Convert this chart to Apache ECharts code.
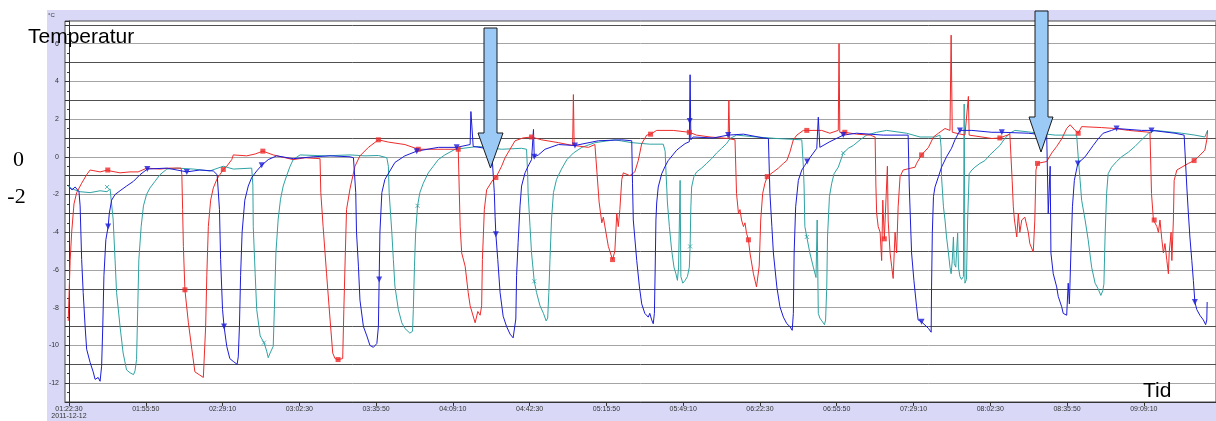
<!DOCTYPE html>
<html>
<head>
<meta charset="utf-8">
<script src="https://cdn.jsdelivr.net/npm/echarts/dist/echarts.min.js"></script>
<style>
html,body{margin:0;padding:0;background:#fff;width:1216px;height:421px;overflow:hidden;}
#panel{position:absolute;left:47px;top:10px;width:1169px;height:411px;background:#d9d9f7;}
#chart{position:absolute;left:0;top:0;width:1216px;height:421px;}
</style>
</head>
<body>
<div id="panel"></div>
<div id="chart"></div>
<script>
// elapsed seconds since 01:22:30 (2011-12-12), temperature in °C
const START_SECONDS = 4950;
const xTickSeconds = [0,2000,4000,6000,8000,10000,12000,14000,16000,18000,20000,22000,24000,26000,28000];
const xTickLabels = ['01:22:30','01:55:50','02:29:10','03:02:30','03:35:50','04:09:10','04:42:30','05:15:50','05:49:10','06:22:30','06:55:50','07:29:10','08:02:30','08:35:50','09:09:10'];
const startDate = '2011-12-12';

const red = [
[-20,-8.7],[30,-5.5],[70,-4.0],[130,-2.5],[200,-1.9],[330,-1.4],[460,-0.95],[550,-0.7],[810,-0.8],[1010,-0.7],[1070,-0.75],[1330,-0.85],[1590,-0.8],[1800,-0.8],[1850,-0.7],[2030,-0.6],[2370,-0.65],[2630,-0.6],[2920,-0.6],
[2940,-0.95],[2960,-2.8],[2980,-4.75],[3020,-7.05],[3110,-8.8],[3200,-10.2],[3280,-11.4],[3390,-11.55],[3500,-11.7],[3540,-11.65],
[3560,-9.0],[3590,-6.3],[3630,-3.7],[3690,-2.3],[3760,-1.65],[3850,-1.2],[3930,-0.95],[4020,-0.67],[4110,-0.5],[4240,-0.15],[4280,0.1],[4630,0.05],[4850,0.15],[5050,0.3],[5320,0.1],[5840,-0.15],[6150,-0.05],[6540,-0.1],
[6560,-1.9],[6620,-3.7],[6710,-6.2],[6800,-8.6],[6870,-10.4],[6930,-10.7],[7010,-10.75],[7130,-10.7],
[7160,-8.1],[7200,-5.0],[7230,-2.8],[7320,-1.7],[7450,-0.5],[7580,0.05],[7800,0.5],[8060,0.9],[8320,0.78],[8750,0.65],[9100,0.4],[9790,0.4],[10140,0.4],[10170,0.3],
[10190,-3.7],[10230,-5.1],[10320,-5.8],[10400,-7.2],[10450,-7.9],[10580,-8.8],[10650,-8.2],[10710,-8.4],[10750,-7.9],
[10770,-5.45],[10820,-2.8],[10880,-1.75],[11050,-1.2],[11120,-1.1],[11270,-0.5],[11360,-0.05],[11490,0.4],[11620,0.85],[11830,1.0],[12050,1.05],[12310,0.9],[12750,0.75],[13120,0.6],[13140,3.3],[13160,0.6],[13530,0.5],[13700,0.65],
[13760,-1.0],[13810,-2.4],[13880,-3.5],[13920,-3.2],[14050,-4.75],[14160,-5.45],[14220,-5.0],[14270,-3.0],[14310,-3.7],[14350,-2.8],[14400,-1.2],[14440,-0.85],[14610,-1.0],[14740,-0.8],[14830,-0.2],[14920,0.7],[15050,1.15],[15150,1.2],[15310,1.4],[15740,1.4],[16160,1.3],[16350,1.15],[16700,1.05],[17170,0.97],[17190,3.0],[17210,0.95],[17350,0.9],
[17390,-1.95],[17440,-3.0],[17480,-2.8],[17520,-3.35],[17570,-3.7],[17610,-3.5],[17650,-4.05],[17700,-4.4],[17740,-5.1],[17830,-6.2],[17910,-6.9],[17960,-7.0],
[17980,-5.8],[18020,-3.35],[18070,-1.95],[18130,-1.4],[18190,-1.05],[18350,-0.8],[18480,-0.6],[18610,-0.35],[18700,-0.2],[18780,0.25],[18870,0.9],[18960,1.15],[19130,1.4],[19220,1.4],[19610,1.4],[19820,1.25],[20040,1.4],[20060,6.0],[20080,1.3],[20210,1.3],[20520,1.2],[20870,1.15],[21000,1.05],
[21020,-1.5],[21040,-3.0],[21080,-3.7],[21130,-4.0],[21170,-5.5],[21200,-2.3],[21240,-4.35],[21280,-4.4],[21320,-0.5],[21340,-3.4],[21390,-5.1],[21430,-5.8],[21470,-6.45],[21520,-4.0],[21560,-5.1],[21600,-2.65],[21650,-1.05],[21730,-0.7],[22040,-0.55],[22080,-0.35],[22210,0.1],[22390,0.5],[22520,1.05],[22650,1.25],[22820,1.5],[22950,1.4],[22980,6.45],[23010,1.3],[23340,1.15],[23430,3.2],[23450,1.15],[23780,1.05],[24040,0.97],[24250,1.0],[24510,1.2],[24560,1.15],
[24570,-1.25],[24600,-2.65],[24630,-3.35],[24690,-4.25],[24730,-3.0],[24770,-4.0],[24820,-3.35],[24900,-3.2],[24990,-4.0],[25030,-4.6],[25120,-5.05],[25160,-3.35],[25190,-0.7],[25230,-0.35],[25470,-0.25],[25600,0.2],[25730,0.55],[25860,0.95],[25990,1.5],[26080,1.7],[26210,1.4],[26290,1.25],[26380,1.6],[26900,1.55],[27250,1.5],[27600,1.4],[28160,1.3],
[28200,-1.95],[28250,-3.35],[28270,-3.35],[28340,-3.7],[28380,-4.0],[28420,-3.35],[28470,-4.4],[28510,-5.1],[28550,-4.6],[28600,-5.5],[28640,-6.2],[28660,-5.1],[28710,-4.0],[28730,-5.5],[28770,-3.35],[28790,-1.25],[28860,-0.7],[29160,-0.35],[29310,-0.2],[29420,0],[29590,0.35],[29640,0.9],[29660,1.4]
];

const blue = [
[0,-1.6],[80,-1.75],[160,-1.6],[260,-1.85],[290,-2.6],[330,-5.45],[370,-7.2],[420,-9.0],[460,-10.2],[550,-10.9],[630,-11.4],[680,-11.8],[760,-11.7],[810,-11.9],[850,-11.1],[880,-9.0],[910,-6.3],[960,-4.4],[1020,-3.7],[1050,-3.0],[1110,-2.3],[1200,-2.0],[1330,-1.8],[1500,-1.55],[1680,-1.3],[1850,-0.95],[2040,-0.65],[2550,-0.6],[3070,-0.8],[3410,-0.7],[3760,-0.75],[3860,-0.95],
[3920,-2.8],[3950,-5.45],[4000,-8.1],[4040,-9.0],[4110,-10.05],[4190,-10.7],[4280,-10.85],[4380,-11.0],[4410,-10.6],[4440,-9.0],[4470,-6.3],[4510,-4.0],[4580,-2.3],[4670,-1.55],[4760,-1.1],[4890,-0.75],[5020,-0.45],[5190,-0.15],[5410,0.05],[5840,-0.1],[6360,0],[6800,0.05],[7320,0],[7410,-0.05],
[7470,-1.9],[7490,-4.0],[7540,-5.8],[7580,-7.6],[7670,-9.0],[7760,-9.5],[7840,-10.0],[7930,-10.1],[8020,-9.9],[8060,-9.0],[8080,-6.5],[8100,-4.0],[8150,-1.9],[8230,-1.2],[8360,-0.75],[8490,-0.3],[8750,0.05],[9060,0.3],[9620,0.5],[10100,0.5],[10450,0.65],[10470,2.4],[10530,0.55],[11010,0.4],[11050,0.3],
[11080,-1.9],[11100,-3.15],[11120,-4.1],[11170,-5.45],[11230,-7.2],[11310,-8.45],[11400,-9.0],[11490,-9.4],[11570,-9.6],[11620,-9.5],[11640,-8.6],[11660,-6.3],[11700,-4.55],[11750,-2.6],[11790,-1.55],[11880,-0.85],[11960,-0.5],[12050,-0.15],[12100,1.45],[12120,0],[12230,0.1],[12400,0.4],[12750,0.65],[13180,0.6],[13790,0.85],[14400,0.9],[14660,0.85],
[14680,-1.4],[14700,-3.35],[14790,-5.5],[14860,-6.9],[14920,-7.8],[15000,-8.3],[15090,-8.5],[15130,-8.3],[15180,-8.65],[15220,-8.85],[15250,-8.3],[15270,-6.0],[15290,-3.35],[15310,-2.45],[15350,-1.6],[15440,-0.9],[15530,-0.5],[15610,-0.2],[15830,0.35],[15920,0.5],[16050,0.7],[16160,0.8],[16180,4.35],[16200,0.9],[16260,1.05],[16780,1.0],[17170,1.15],[17570,1.2],[18090,1.0],[18220,0.97],
[18260,-1.95],[18310,-3.7],[18350,-5.1],[18440,-6.9],[18520,-7.95],[18610,-8.5],[18700,-8.85],[18780,-9.0],[18840,-9.2],[18870,-8.3],[18890,-5.1],[18930,-2.65],[19000,-1.25],[19090,-0.7],[19170,-0.45],[19230,-0.25],[19390,0.2],[19480,0.45],[19520,2.1],[19560,0.5],[19820,0.8],[20170,1.15],[20520,1.25],[21210,1.15],[21860,1.15],
[21890,-1.6],[21950,-5.1],[22010,-6.55],[22080,-7.95],[22120,-8.65],[22210,-8.75],[22390,-9.1],[22460,-9.3],[22470,-6.9],[22490,-4.05],[22520,-2.1],[22560,-1.6],[22650,-1.05],[22730,-0.55],[22860,0],[22990,0.45],[23080,0.9],[23210,1.4],[23520,1.4],[24040,1.3],[24300,1.3],[24990,1.25],[25470,1.15],
[25510,-3.0],[25560,-0.5],[25580,-5.1],[25640,-6.2],[25730,-6.9],[25770,-7.4],[25860,-7.95],[25900,-8.3],[25990,-8.4],[26030,-6.7],[26060,-7.8],[26100,-5.1],[26140,-2.65],[26190,-1.25],[26280,-0.35],[26470,0],[26680,0.6],[26810,0.95],[26940,1.25],[27160,1.4],[27290,1.5],[27940,1.4],[28200,1.4],[28810,1.25],[29050,1.15],
[29120,-1.6],[29160,-3.0],[29200,-4.25],[29250,-5.5],[29290,-6.55],[29330,-7.7],[29380,-8.1],[29460,-8.4],[29550,-8.65],[29610,-8.9],[29640,-8.65],[29650,-7.7]
];

const teal = [
[-20,-1.55],[80,-1.7],[290,-1.85],[550,-1.9],[810,-1.8],[990,-1.85],[1070,-1.7],[1110,-1.75],[1150,-3.3],[1200,-5.45],[1240,-7.2],[1330,-9.0],[1410,-10.4],[1500,-11.3],[1590,-11.45],[1680,-11.55],[1720,-11.35],[1760,-10.75],[1790,-8.1],[1820,-5.45],[1880,-3.7],[1940,-2.6],[2020,-2.0],[2110,-1.65],[2240,-1.3],[2370,-0.95],[2550,-0.65],[2810,-0.6],[3240,-0.65],[3670,-0.75],[4020,-0.5],[4280,-0.65],[4760,-0.6],
[4790,-1.5],[4800,-3.7],[4850,-6.2],[4890,-8.1],[4980,-9.5],[5080,-9.85],[5150,-10.3],[5190,-10.65],[5240,-10.4],[5320,-10.05],[5350,-8.1],[5390,-5.1],[5450,-3.3],[5510,-2.25],[5580,-1.55],[5670,-1.0],[5760,-0.5],[5840,-0.15],[6020,0.1],[6670,0.05],[7320,0.1],[7710,0.05],[8060,0.07],[8280,-0.05],
[8320,-0.5],[8340,-1.9],[8410,-4.0],[8450,-5.45],[8490,-6.85],[8580,-8.1],[8670,-8.8],[8750,-9.1],[8880,-9.35],[8950,-9.25],[8970,-8.1],[9000,-5.8],[9030,-4.0],[9080,-2.6],[9140,-1.9],[9230,-1.4],[9360,-0.85],[9490,-0.5],[9620,-0.15],[9790,0.1],[10060,0.4],[10660,0.55],[11270,0.4],[11790,0.45],[11920,0.4],
[11950,-1.0],[11960,-1.9],[12010,-3.7],[12050,-5.1],[12120,-6.6],[12180,-7.2],[12270,-7.9],[12360,-8.3],[12430,-8.7],[12470,-8.55],[12500,-7.2],[12530,-5.45],[12570,-3.3],[12620,-1.9],[12700,-1.2],[12830,-0.65],[12970,-0.15],[13140,0.2],[13360,0.5],[13700,0.75],[14220,0.9],[14660,0.75],[15130,0.67],[15480,0.67],
[15530,0.3],[15550,-0.7],[15590,-2.45],[15640,-3.7],[15700,-4.95],[15760,-5.85],[15810,-6.2],[15850,-6.55],[15880,-5.85],[15920,-1.25],[15940,-6.35],[15990,-6.7],[16050,-6.55],[16110,-6.35],[16160,-5.85],[16180,-4.75],[16200,-2.65],[16220,-1.6],[16280,-1.05],[16350,-0.8],[16480,-0.6],[16610,-0.35],[16740,-0.1],[16870,0.2],[17000,0.45],[17130,0.7],[17220,0.97],[17390,1.15],[17910,1.05],[18440,0.97],[19090,0.9],
[19130,-0.5],[19150,-1.6],[19170,-3.7],[19220,-4.25],[19300,-5.1],[19390,-5.85],[19460,-6.4],[19490,-3.35],[19520,-8.3],[19560,-8.55],[19630,-8.75],[19680,-8.9],[19710,-8.65],[19740,-6.9],[19760,-4.25],[19810,-2.1],[19870,-1.4],[19930,-0.9],[20040,-0.55],[20170,0.2],[20300,0.45],[20430,0.6],[20610,0.9],[20780,1.15],[21040,1.3],[21300,1.4],[21820,1.25],[22170,1.05],[22560,1.05],[22690,1.15],
[22720,0.5],[22730,-1.05],[22780,-2.65],[22820,-3.35],[22860,-4.25],[22910,-5.1],[22950,-5.85],[22980,-6.2],[23010,-5.5],[23040,-4.25],[23060,-5.65],[23100,-5.85],[23120,-5.1],[23150,-4.05],[23170,-5.85],[23210,-6.35],[23250,-6.5],[23300,-6.35],[23320,2.8],[23340,-6.7],[23380,-6.5],[23410,-3.35],[23450,-0.9],[23520,-0.7],[23600,-0.55],[23730,-0.35],[23860,-0.2],[23990,0.1],[24120,0.35],[24250,0.6],[24380,0.97],[24510,1.25],[24640,1.4],[25080,1.3],[25690,1.15],[26250,1.15],
[26290,0],[26340,-1.25],[26380,-2.3],[26470,-3.35],[26550,-4.4],[26640,-5.85],[26730,-6.7],[26810,-7.0],[26880,-7.35],[26930,-7.1],[26960,-6.75],[26990,-4.25],[27030,-1.95],[27070,-0.9],[27160,-0.55],[27290,-0.25],[27420,0],[27600,0.25],[27770,0.55],[27940,0.9],[28120,1.25],[28290,1.4],[28990,1.25],[29330,1.15],[29590,1.05],[29660,1.4]
];

const redMarks = [[1010,-0.7],[3020,-7.05],[4020,-0.67],[5050,0.3],[7010,-10.75],[8060,0.9],[9100,0.4],[10140,0.4],[11120,-1.1],[12050,1.05],[14160,-5.45],[15150,1.2],[16160,1.3],[17700,-4.4],[18190,-1.05],[19220,1.4],[20210,1.3],[21240,-4.35],[22210,0.1],[24250,1.0],[25230,-0.35],[26290,1.25],[28270,-3.35],[29310,-0.2]];
const blueMarks = [[1020,-3.7],[2040,-0.65],[3070,-0.8],[4040,-9.0],[5020,-0.45],[8080,-6.5],[9060,0.3],[10100,0.5],[11120,-4.1],[12120,0],[13180,0.6],[16170,1.9],[17170,1.15],[19230,-0.25],[20170,1.15],[22210,-8.75],[23210,1.4],[24300,1.3],[26280,-0.35],[27290,1.5],[28200,1.4],[29330,-7.7]];
const tealMarks = [[990,-1.6],[5080,-9.85],[9080,-2.6],[12120,-6.6],[16180,-4.75],[19220,-4.25],[20170,0.2]];

const RED = '#ee2b2b', BLUE = '#1c1cd8', TEAL = '#2fa3a3';

const chart = echarts.init(document.getElementById('chart'), null, {renderer:'canvas', width:1216, height:421});

function lineSeries(name, data, color) {
  return {name, type:'line', data, symbol:'none', showSymbol:false, animation:false,
    lineStyle:{color, width:1}, itemStyle:{color}, z:2};
}
function markSeries(name, data, color, symbol, extra) {
  return Object.assign({name, type:'scatter', data, symbol, symbolSize:5, animation:false,
    itemStyle:{color}, z:3}, extra || {});
}

chart.setOption({
  backgroundColor:'transparent',
  animation:false,
  grid:{left:65, top:21, right:-1, bottom:19, show:true, backgroundColor:'#ffffff', borderColor:'#4a4a4a', borderWidth:1},
  xAxis:{
    type:'value', min:-104, max:29880,
    axisLine:{show:true, onZero:false, lineStyle:{color:'#333', width:1}},
    axisTick:{show:true, customValues:xTickSeconds, length:4, lineStyle:{color:'#333'}},
    axisLabel:{customValues:xTickSeconds, fontSize:7, color:'#333', margin:4, lineHeight:7, fontFamily:'Liberation Sans',
      formatter:function(v){ const i = xTickSeconds.indexOf(v); if (i < 0) return ''; return i === 0 ? xTickLabels[i] + '\n' + startDate : xTickLabels[i]; }},
    splitLine:{show:false}
  },
  yAxis:{
    type:'value', min:-13, max:7.2, interval:1,
    axisLine:{show:true, lineStyle:{color:'#333', width:1}},
    axisTick:{show:true, length:4, lineStyle:{color:'#333'}},
    minorTick:{show:true, splitNumber:2, length:2, lineStyle:{color:'#333'}},
    axisLabel:{fontSize:7, color:'#333', margin:6, fontFamily:'Liberation Sans',
      formatter:function(v){ return (Math.abs(v - Math.round(v)) < 1e-6 && Math.round(v) % 2 === 0) ? String(Math.round(v)) : ''; }},
    splitLine:{show:true, lineStyle:{color:['#505050','#a4a4a4'], width:1}}
  },
  series:[
    lineSeries('teal', teal, TEAL),
    lineSeries('red', red, RED),
    lineSeries('blue', blue, BLUE),
    markSeries('tealMarks', tealMarks, TEAL, 'path://M0,0L10,10M10,0L0,10', {itemStyle:{color:'none', borderColor:TEAL, borderWidth:1}, symbolSize:4}),
    markSeries('redMarks', redMarks, RED, 'rect'),
    markSeries('blueMarks', blueMarks, BLUE, 'triangle', {symbolRotate:180, symbolSize:6})
  ],
  graphic:[
    {type:'text', x:48, y:12, z:100, style:{text:'°C', font:'6px "Liberation Sans"', fill:'#333'}},
    {type:'text', x:28, y:37, z:100, style:{text:'Temperatur', font:'21px "Liberation Sans"', fill:'#000', verticalAlign:'middle'}},
    {type:'text', x:18.5, y:160.5, z:100, style:{text:'0', font:'22px "Liberation Serif"', fill:'#000', align:'center', verticalAlign:'middle'}},
    {type:'text', x:16.5, y:197.5, z:100, style:{text:'-2', font:'22px "Liberation Serif"', fill:'#000', align:'center', verticalAlign:'middle'}},
    {type:'text', x:1143, y:391.5, z:100, style:{text:'Tid', font:'21px "Liberation Sans"', fill:'#000', verticalAlign:'middle'}},
    {type:'polygon', z:100, shape:{points:[[484,28],[497,28],[497,133],[503,133],[490.5,168],[478,133],[484,133]]},
      style:{fill:'#9ccaf7', stroke:'#1a1a1a', lineWidth:1}},
    {type:'polygon', z:100, shape:{points:[[1035,11],[1048,11],[1048,117],[1053,117],[1041,152],[1029,117],[1035,117]]},
      style:{fill:'#9ccaf7', stroke:'#1a1a1a', lineWidth:1}}
  ]
});
</script>
</body>
</html>
